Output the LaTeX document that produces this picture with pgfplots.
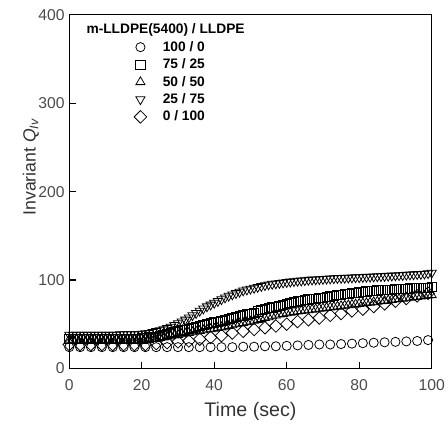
\documentclass[border=0pt]{standalone}
\usepackage{fontspec}
\setmainfont{Liberation Sans}
\usepackage{pgfplots}
\pgfplotsset{compat=1.18}

% 25/75
\pgfplotstableread{
x y
0 38
1 38
2 38
3 38
4 38
5 38
6 38
7 38
8 38
9 38
10 38
11 38
12 38
13 38
14 38.5
15 38.5
16 38.5
17 38.5
18 38.5
19 38.5
20 39
21 39.5
22 40
23 41
24 42
25 43
26 44
27 45.5
28 47
29 49
30 51
31 53
32 55
33 57.5
34 60
35 62.5
36 65
37 67.5
38 70
39 72
40 74
41 76
42 78
43 80
44 82
45 83.5
46 85
47 86.5
48 88
49 89
50 90
51 91
52 92
53 93
54 94
55 94.8
56 95.5
57 96
58 96.5
59 97
60 97.5
61 98
62 98.5
63 98.9
64 99.2
65 99.6
66 100
67 100.3
68 100.5
69 100.8
70 101
71 101.3
72 101.5
73 101.8
74 102
75 102.2
76 102.3
77 102.5
78 102.7
79 102.9
80 103
81 103.2
82 103.4
83 103.6
84 103.8
85 104
86 104.2
87 104.4
88 104.6
89 104.8
90 105
91 105.2
92 105.5
93 105.7
94 106
95 106.2
96 106.5
97 106.7
98 107
99 107.5
100 108
}\tdown

% 75/25
\pgfplotstableread{
x y
0 33
1 33
2 33
3 33
4 33
5 33
6 33
7 33
8 33
9 33
10 33
11 33
12 33
13 33
14 33.5
15 33.5
16 33.5
17 33.5
18 33.5
19 33.5
20 34
21 34.5
22 35
23 35.5
24 36
25 37
26 38
27 39
28 40
29 41
30 42
31 43
32 44
33 45
34 46
35 47
36 48
37 49
38 50
39 51
40 52
41 53
42 54
43 55
44 56
45 57
46 58
47 59
48 60
49 61
50 62
51 63.2
52 64.5
53 65.8
54 67
55 68
56 69
57 70
58 71
59 72
60 73
61 74
62 75
63 75.8
64 76.5
65 77.2
66 78
67 78.5
68 79
69 79.5
70 80
71 80.8
72 81.5
73 82.2
74 83
75 83.5
76 84
77 84.5
78 85
79 85.5
80 86
81 86.5
82 87
83 87.5
84 88
85 88.2
86 88.5
87 88.8
88 89
89 89.2
90 89.5
91 89.8
92 90
93 90.2
94 90.5
95 90.6
96 90.8
97 90.9
98 91
99 91.5
100 92
}\squares

% 50/50
\pgfplotstableread{
x y
0 32.5
1 32.5
2 32.5
3 32.5
4 32.5
5 32.5
6 32.5
7 32.5
8 32.5
9 32.5
10 32.5
11 32.5
12 32.5
13 32.5
14 32.5
15 32.5
16 32.5
17 32.5
18 32.5
19 32.5
20 33
21 33
22 33
23 33.5
24 34
25 34.5
26 35
27 35.8
28 36.5
29 37.2
30 38
31 38.8
32 39.5
33 40.2
34 41
35 41.8
36 42.5
37 43.2
38 44
39 44.5
40 45
41 45.8
42 46.5
43 47.2
44 48
45 49
46 50
47 50.8
48 51.5
49 52.2
50 53
51 54
52 55
53 56
54 57
55 58
56 59
57 60
58 61
59 61.8
60 62.5
61 63.2
62 64
63 64.5
64 65
65 65.5
66 66
67 66.5
68 67
69 67.5
70 68
71 68.5
72 69
73 69.5
74 70
75 70.5
76 71
77 71.5
78 72
79 72.5
80 73
81 73.5
82 74
83 74.5
84 75
85 75.5
86 76
87 76.5
88 77
89 77.5
90 78
91 78.5
92 79
93 79.5
94 80
95 80.5
96 81
97 81.5
98 82
99 82.5
100 83
}\tup

% 0/100
\pgfplotstableread{
x y
0 27
3 27
6 27
9 27
12 27
15 27
18 27
21 27
24 28
27 29
30 30
33 31
36 33
39 35
42 37
45 40
48 42
51 44
54 46
57 48
60 50
63 53
66 55
69 57
72 60
75 62
78 65
81 67
84 70
87 73
90 76
93 79
96 82
99 85
}\diamonds

% 100/0
\pgfplotstableread{
x y
0 24
3 24
6 24
9 24
12 24
15 24
18 24
21 24
24 24
27 24
30 24
33 24
36 24
39 24
42 24
45 24
48 24.5
51 24.5
54 25
57 25
60 25.5
63 26
66 26.5
69 27
72 27
75 27.5
78 28
81 28.5
84 29
87 29.5
90 30
93 30.5
96 31
99 32
}\circles

\begin{document}
\begin{tikzpicture}
\begin{axis}[
    scale only axis,
    width=9.73cm,
    height=9.49cm,
    xmin=0, xmax=100,
    ymin=0, ymax=400,
    xtick={0,20,40,60,80,100},
    ytick={0,100,200,300,400},
    tick pos=left,
    tick align=inside,
    major tick length=5pt,
    axis line style={line width=1pt},
    tick style={line width=0.8pt, black},
    ticklabel style={font=\fontsize{12}{14}\selectfont, text=black!70},
    xticklabel style={yshift=-5pt},
    /pgf/number format/assume math mode=true,
    xlabel={Time (sec)},
    ylabel={Invariant \textit{Q}\textsubscript{\textit{Iv}}},
    xlabel style={font=\fontsize{15}{17}\selectfont, text=black!80,
        at={(rel axis cs:0.5,-0.123)}, anchor=center},
    ylabel style={font=\fontsize{13.5}{15}\selectfont, text=black!80,
        at={(rel axis cs:-0.106,0.57)}, anchor=center},
    legend style={draw=none, fill=none, at={(0.153,0.941)}, anchor=north west,
        font=\bfseries\fontsize{10.5}{12}\selectfont, row sep=0.2pt,
        legend cell align=left},
    legend image code/.code={\path (0cm,0cm) (0.82cm,0cm);
        \draw[#1] plot coordinates {(0.3cm,0cm)};},
    every axis plot/.append style={only marks, line width=0.6pt, black},
]
\addplot[mark=o, mark size=3.5pt] table {\circles};
\addlegendentry{100 / 0}
\addplot[mark=square, mark size=3.5pt] table {\squares};
\addlegendentry{75 / 25}
\addplot[mark=triangle, mark size=4pt] table {\tup};
\addlegendentry{50 / 50}
\addplot[mark=triangle, mark options={rotate=180}, mark size=4pt] table {\tdown};
\addlegendentry{25 / 75}
\addplot[mark=square, mark options={rotate=45}, mark size=3.4pt] table {\diamonds};
\addlegendentry{0 / 100}
\node[anchor=west, font=\bfseries\fontsize{10.5}{12}\selectfont] at (rel axis cs:0.035,0.958) {m-LLDPE(5400) / LLDPE};
\coordinate (bbl) at (rel axis cs:-0.191,-0.184);
\coordinate (btr) at (rel axis cs:1.045,1.042);
\end{axis}
\pgfresetboundingbox
\path (bbl) rectangle (btr);
\end{tikzpicture}
\end{document}
